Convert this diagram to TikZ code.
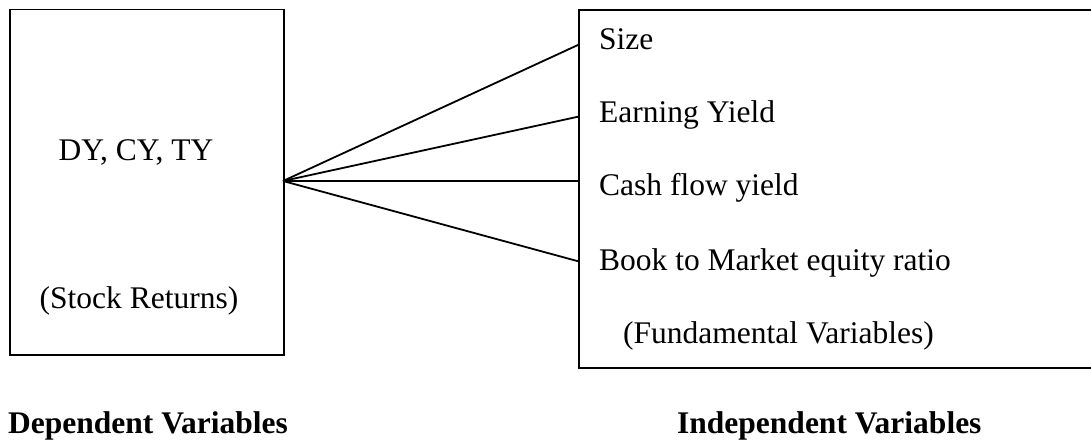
\documentclass[tikz,border=0pt]{standalone}
\usepackage{fontspec}
\setmainfont{Liberation Serif}
\begin{document}
\begin{tikzpicture}[x=1pt,y=-1pt,
  box/.style={draw,line width=1.8pt,inner sep=0pt},
  lbl/.style={anchor=base west,inner sep=0pt,font=\fontsize{31.5}{36}\selectfont},
  lblc/.style={anchor=base,inner sep=0pt,font=\fontsize{31.5}{36}\selectfont},
  head/.style={anchor=base west,inner sep=0pt,font=\fontsize{31.5}{36}\selectfont\bfseries},
  conn/.style={line width=1.8pt}]
\useasboundingbox (0,0) rectangle (1091,441);
\clip (0,0) rectangle (1091,441);
\node[box,minimum width=274pt,minimum height=345.5pt] (L) at (147,182.25) {};
\node[box,minimum width=560pt,minimum height=358pt] (R) at (859,189) {};
\node[lblc] (dy) at (136,160) {DY, CY, TY};
\node[lblc] (sr) at (139,308) {(Stock Returns)};
\node[lbl] (size) at (599,50) {Size};
\node[lbl] (ey) at (599,123) {Earning Yield};
\node[lbl] (cf) at (599,195) {Cash flow yield};
\node[lbl] (bm) at (599,270) {Book to Market equity ratio};
\node[lbl] (fv) at (623,343) {(Fundamental Variables)};
\node[head] (dv) at (8,433) {Dependent Variables};
\node[head] (iv) at (677,433) {Independent Variables};
\coordinate (p1) at (579,44.5);
\coordinate (p2) at (579,116.5);
\coordinate (p3) at (579,181);
\coordinate (p4) at (579,261.5);
\coordinate (o) at (283,181);
\draw[conn] (o) -- (p1);
\draw[conn] (o) -- (p2);
\draw[conn] (o) -- (p3);
\draw[conn] (o) -- (p4);
\end{tikzpicture}
\end{document}
